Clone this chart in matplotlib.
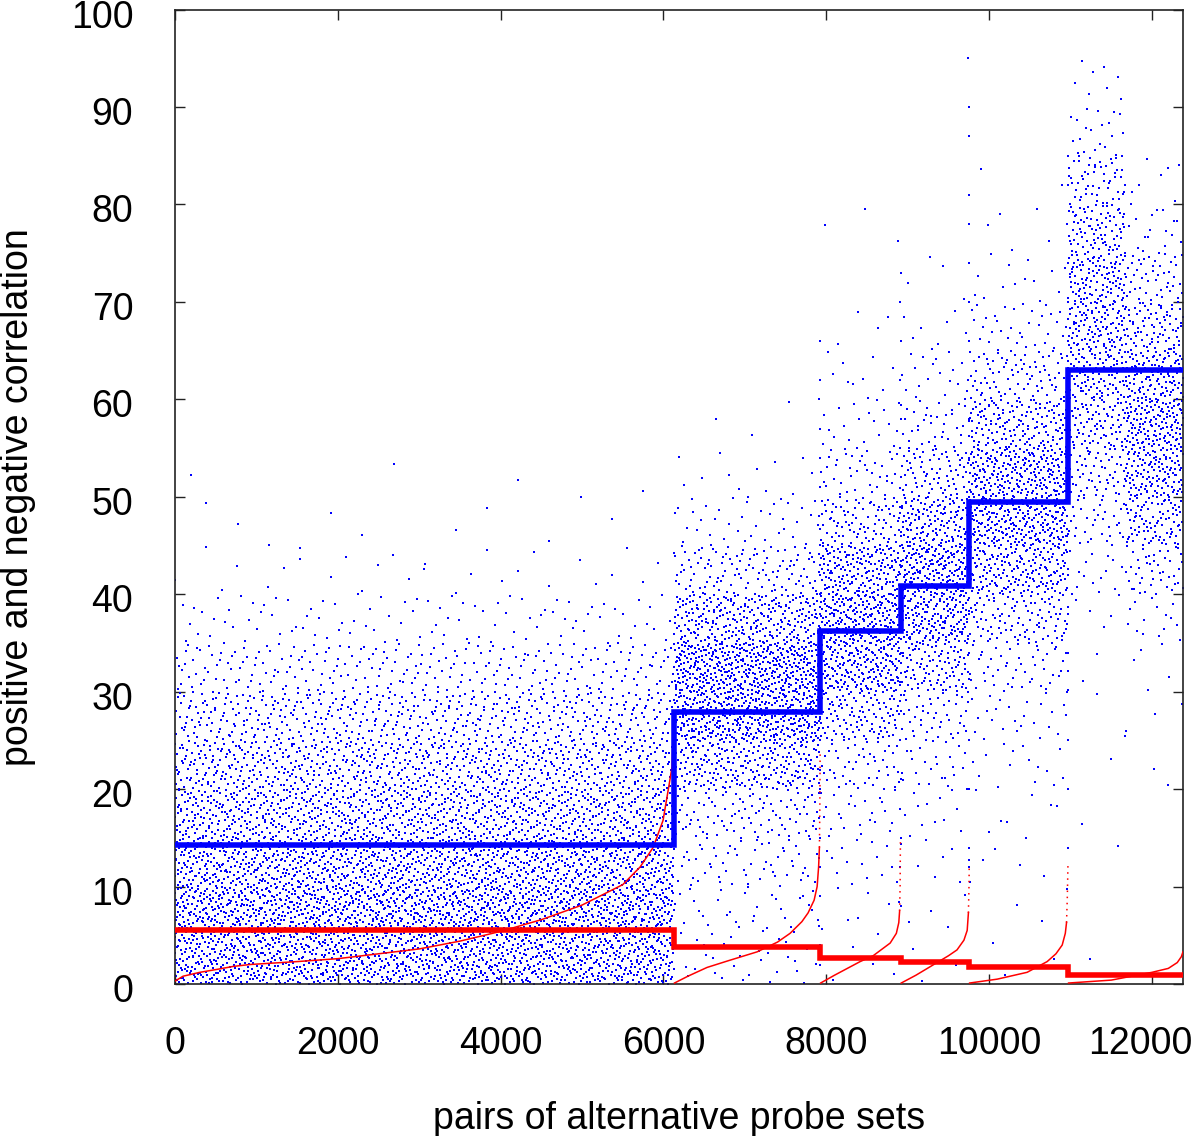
import matplotlib
matplotlib.use("Agg")
import matplotlib.pyplot as plt
import matplotlib.transforms as mtransforms
import numpy as np

plt.rcParams['font.family'] = ['Liberation Sans', 'DejaVu Sans']

# group boundaries (pair index) and per-group mean correlation
edges = [0, 6130, 7925, 8915, 9755, 10970, 12380]
pos_mean = [14.3, 27.9, 36.2, 40.8, 49.5, 63.0]
neg_mean = [5.5, 3.8, 2.7, 2.3, 1.7, 0.9]

# blue cloud: counts of pairs per 5-unit bin of positive correlation (0-5, 5-10, ...)
# group 6 is split in two halves because its upper tail sits on the left
bin_width = 5
pos_counts = [
    [1200, 1300, 1100, 900, 720, 500, 260, 100, 30, 10, 4],
    [30, 35, 60, 100, 250, 420, 450, 280, 115, 40, 12, 3],
    [5, 8, 15, 25, 50, 110, 200, 230, 180, 90, 40, 20, 10, 4, 0, 3],
    [3, 4, 8, 12, 25, 45, 100, 170, 190, 140, 75, 38, 18, 8, 4],
    [3, 3, 5, 8, 15, 25, 50, 105, 190, 260, 250, 160, 85, 35, 14, 5, 2],
    [2, 0, 1, 1, 1, 2, 3, 5, 15, 35, 60, 85, 105, 115, 110, 85, 55, 20, 8],
    [0, 0, 0, 0, 2, 3, 5, 15, 45, 90, 130, 145, 120, 80, 45, 18, 7],
]
pos_ranges = [(0, 6130), (6130, 7925), (7925, 8915), (8915, 9755),
              (9755, 10970), (10970, 11675), (11675, 12380)]

# scattered columns of points at the right end of groups
edge_x = [7920, 8910, 9750, 10965]
edge_y = [
    [2, 4, 6, 9, 12, 15, 17, 20, 22, 25, 27, 30, 33, 35, 38, 40, 43, 45, 48, 51, 54, 57, 60, 62, 66],
    [8, 12, 15, 18, 21, 25, 28, 31, 34, 37, 40, 43, 46, 49, 52, 55, 58, 62, 66, 70, 73],
    [12, 14, 20, 25, 30, 34, 38, 42, 46, 50, 54, 58, 62, 66, 70, 74, 78, 81, 87, 90, 95],
    [14, 20, 25, 30, 34, 38, 42, 46, 50, 54, 58, 62, 66, 70, 74, 78, 82, 85],
]

# sorted negative correlation per group (red curves)
neg_x = [
    [0, 100, 307, 516, 712, 921, 1500, 2000, 3000, 3500, 4000, 4500, 5000, 5500, 5712, 5872, 5995, 6080, 6105, 6128],
    [6135, 6300, 6535, 6800, 7150, 7400, 7555, 7700, 7776, 7850, 7887, 7905, 7915, 7920, 7924],
    [7930, 8100, 8415, 8575, 8784, 8860, 8890, 8900, 8906, 8910],
    [8920, 9100, 9360, 9500, 9605, 9690, 9730, 9745, 9752, 9755],
    [9760, 10100, 10466, 10712, 10820, 10897, 10935, 10950, 10960, 10968],
    [10975, 11500, 12000, 12200, 12310, 12360, 12380],
]
neg_y = [
    [0.3, 0.8, 1.2, 1.5, 1.8, 2.0, 2.3, 2.6, 3.6, 4.4, 5.4, 6.6, 8.1, 10.2, 12.0, 14.0, 16.8, 21.0, 22.3, 28.0],
    [0.1, 0.8, 1.7, 2.4, 3.3, 4.3, 5.2, 6.4, 7.3, 8.6, 10.0, 12.0, 14.0, 18.0, 24.0],
    [0.1, 0.9, 2.3, 2.9, 4.2, 5.2, 6.3, 7.5, 10.0, 14.8],
    [0.1, 0.9, 2.2, 2.9, 3.5, 4.5, 5.5, 7.3, 10.0, 12.2],
    [0.1, 0.5, 1.2, 2.3, 3.1, 4.0, 5.2, 6.3, 9.0, 12.4],
    [0.1, 0.4, 1.2, 1.6, 2.2, 2.8, 3.3],
]
# index from which the top of each red curve is only sparse dots
neg_solid = [None, 12, 7, 7, 7, None]


def radical_inverse(k, base):
    k = np.asarray(k)
    out = np.zeros(k.shape)
    f = 1.0 / base
    while np.any(k > 0):
        out += f * (k % base)
        k = k // base
        f /= base
    return out


def spread(n, start):
    # Halton placement of n points inside a unit square
    k = np.arange(start, start + n) + 37
    return radical_inverse(k, 2), radical_inverse(k, 3)


fig = plt.figure(figsize=(12, 11.36), dpi=100)
ax = fig.add_axes([0.1458, 0.1338, 0.84, 0.8578])

bx, by = [], []
idx = 0
for (x0, x1), counts in zip(pos_ranges, pos_counts):
    for b, c in enumerate(counts):
        if c == 0:
            continue
        u, v = spread(c, idx)
        idx += c
        bx.append(x0 + u * (x1 - x0))
        by.append(b * bin_width + v * bin_width)
for ex, ey in zip(edge_x, edge_y):
    u, _ = spread(len(ey), idx)
    idx += len(ey)
    bx.append(ex - 6 + u * 12)
    by.append(np.array(ey, dtype=float))
bx = np.concatenate(bx)
by = np.concatenate(by)
ax.plot(bx, by, linestyle='none', marker='s', markersize=1.45,
        markeredgewidth=0, color='#0000ff', zorder=2)

for xs, ys, cut in zip(neg_x, neg_y, neg_solid):
    if cut is None:
        ax.plot(xs, ys, color='#ff0000', lw=1.1, zorder=3)
    else:
        ax.plot(xs[:cut + 1], ys[:cut + 1], color='#ff0000', lw=1.1, zorder=3)
        ax.plot(xs[cut:], ys[cut:], color='#ff0000', lw=1.1,
                linestyle=(0, (1, 3)), zorder=3)

ax.stairs(pos_mean, edges, baseline=None, color='#0000ff', lw=4, zorder=4)
ax.stairs(neg_mean, edges, baseline=None, color='#ff0000', lw=4, zorder=5)

ax.set_xlim(0, 12380)
ax.set_ylim(0, 100)
ax.set_xticks(np.arange(0, 12001, 2000))
ax.set_yticks(np.arange(0, 101, 10))
ax.tick_params(direction='in', length=7, width=1, top=True, right=True,
               labelsize=27, pad=30, color='#222222')
shift = mtransforms.ScaledTranslation(0, -0.04, fig.dpi_scale_trans)
for lab in ax.get_yticklabels():
    lab.set_transform(lab.get_transform() + shift)
# last x label kept inside the canvas, as in the original
last = ax.get_xticklabels()[-1]
last.set_transform(last.get_transform()
                   + mtransforms.ScaledTranslation(-0.12, 0, fig.dpi_scale_trans))
for s in ax.spines.values():
    s.set_linewidth(1.2)
    s.set_color('#222222')

ax.set_xlabel('pairs of alternative probe sets', fontsize=27, labelpad=28)
ax.set_ylabel('positive and negative correlation', fontsize=27, labelpad=25)

fig.savefig('out.png', dpi=100)
